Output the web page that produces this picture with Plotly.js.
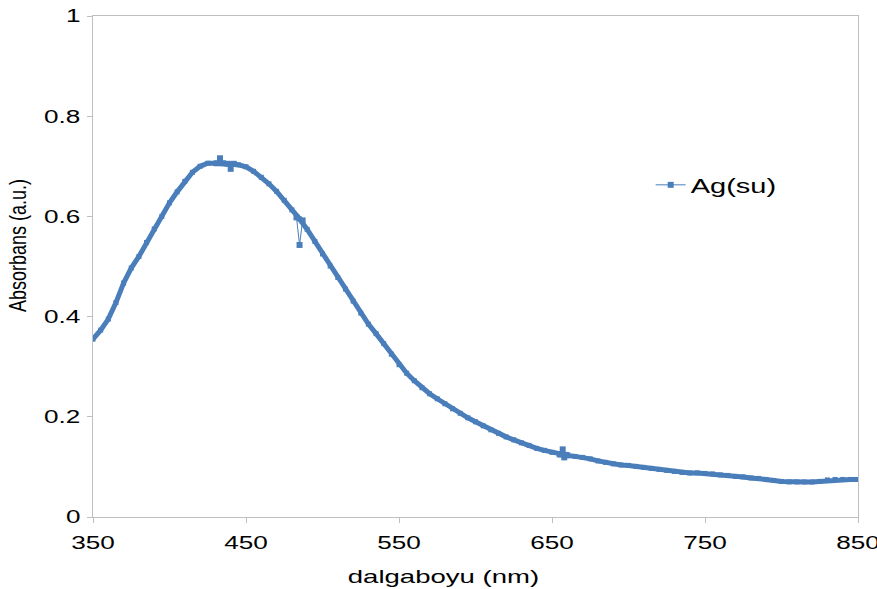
<!DOCTYPE html>
<html>
<head>
<meta charset="utf-8">
<script src="https://cdn.plot.ly/plotly-3.0.1.min.js"></script>
<style>html,body{margin:0;padding:0;background:#fff;}#chart{width:877px;height:589px;}</style>
</head>
<body>
<div id="chart"></div>
<script>
// wavelength (nm), 5 nm steps
const wavelength = [350,355,360,365,370,375,380,385,390,395,400,405,410,415,420,425,430,435,440,445,450,455,460,465,470,475,480,485,490,495,500,505,510,515,520,525,530,535,540,545,550,555,560,565,570,575,580,585,590,595,600,605,610,615,620,625,630,635,640,645,650,655,660,665,670,675,680,685,690,695,700,705,710,715,720,725,730,735,740,745,750,755,760,765,770,775,780,785,790,795,800,805,810,815,820,825,830,835,840,845,850];
const absorbance = [0.355,0.373,0.395,0.428,0.467,0.497,0.520,0.548,0.575,0.600,0.627,0.649,0.670,0.688,0.700,0.706,0.706,0.706,0.704,0.703,0.699,0.690,0.678,0.665,0.650,0.632,0.613,0.595,0.574,0.550,0.525,0.501,0.478,0.455,0.431,0.407,0.385,0.366,0.346,0.325,0.304,0.287,0.272,0.258,0.246,0.236,0.226,0.216,0.207,0.198,0.190,0.182,0.174,0.167,0.160,0.154,0.148,0.143,0.137,0.133,0.129,0.125,0.123,0.121,0.119,0.116,0.112,0.109,0.106,0.104,0.103,0.101,0.099,0.097,0.095,0.093,0.091,0.089,0.088,0.088,0.087,0.086,0.084,0.083,0.081,0.080,0.078,0.077,0.075,0.073,0.071,0.070,0.070,0.070,0.070,0.071,0.074,0.075,0.075,0.075,0.075];
// noisy readings (spikes) in the measured series
const spikeX = [431,433,435,null,438,440,442,null,483,485,487,null,655,657,659,null,656,658,660];
const spikeY = [0.706,0.716,0.706,null,0.705,0.695,0.705,null,0.598,0.543,0.592,null,0.125,0.135,0.124,null,0.125,0.119,0.123];
const seriesName = "Ag(su)";
const xTicks = [350,450,550,650,750,850];
const yTicks = [0,0.2,0.4,0.6,0.8,1];
const yTickText = ["0","0.2","0.4","0.6","0.8","1"];

const blue = "#4a7ebb";
const traces = [
  {x: wavelength, y: absorbance, type: "scatter", mode: "lines+markers",
   line: {color: blue, width: 5}, marker: {symbol: "square", size: 5, color: blue},
   showlegend: false, hoverinfo: "x+y"},
  {x: spikeX, y: spikeY, type: "scatter", mode: "lines+markers", connectgaps: false,
   line: {color: blue, width: 1}, marker: {symbol: "square", size: 6, color: blue},
   showlegend: false},
  {x: [null], y: [null], type: "scatter", mode: "lines+markers", name: seriesName,
   line: {color: blue, width: 1}, marker: {symbol: "square", size: 6, color: blue},
   showlegend: true}
];
const layout = {
  width: 877, height: 589,
  margin: {l: 93, r: 19, t: 16, b: 72},
  paper_bgcolor: "#fff", plot_bgcolor: "#fff",
  font: {family: "Liberation Sans, Arial, sans-serif", color: "#000", size: 18},
  xaxis: {range: [350, 850], tickvals: xTicks, ticktext: xTicks.map(String),
    showgrid: false, zeroline: false, showline: true, linecolor: "#bfbfbf", linewidth: 1,
    mirror: true, ticks: "outside", ticklen: 5, tickcolor: "#bfbfbf", ticklabelstandoff: 4,
    tickfont: {size: 18}, title: {text: "dalgaboyu (nm)", font: {size: 19}, standoff: 18}},
  yaxis: {range: [0, 1], tickvals: yTicks, ticktext: yTickText,
    showgrid: false, zeroline: false, showline: true, linecolor: "#bfbfbf", linewidth: 1,
    mirror: true, ticks: "outside", ticklen: 5, tickcolor: "#bfbfbf", ticklabelstandoff: 3,
    tickfont: {size: 18}, title: {text: "Absorbans (a.u.)", font: {size: 18}, standoff: 24}},
  showlegend: true,
  legend: {x: 0.729, y: 0.663, xanchor: "left", yanchor: "middle",
    bgcolor: "rgba(0,0,0,0)", font: {size: 20}, itemwidth: 30}
};
Plotly.newPlot("chart", traces, layout, {displayModeBar: false, staticPlot: true}).then(function (gd) {
  // the reference text is horizontally widened; stretch the horizontal texts
  const S = 1.45;
  gd.querySelectorAll("svg text").forEach(function (t) {
    if (t.classList.contains("ytitle")) return;
    const len = t.getComputedTextLength();
    if (len > 0) {
      t.setAttribute("textLength", (len * S).toFixed(1));
      t.setAttribute("lengthAdjust", "spacingAndGlyphs");
    }
  });
  gd.querySelectorAll(".legend [clip-path]").forEach(function (e) { e.removeAttribute("clip-path"); });
  const xt = gd.querySelector("text.xtitle");
  if (xt) xt.setAttribute("x", (parseFloat(xt.getAttribute("x")) - 32).toFixed(1));
  const yt = gd.querySelector("text.ytitle");
  if (yt) {
    const x = parseFloat(yt.getAttribute("x")), y = parseFloat(yt.getAttribute("y"));
    const tr = yt.getAttribute("transform") || "";
    yt.setAttribute("transform", "translate(0,-21) translate(" + x + "," + y + ") scale(1.3,1) translate(" + (-x) + "," + (-y) + ") " + tr);
  }
});
</script>
</body>
</html>
